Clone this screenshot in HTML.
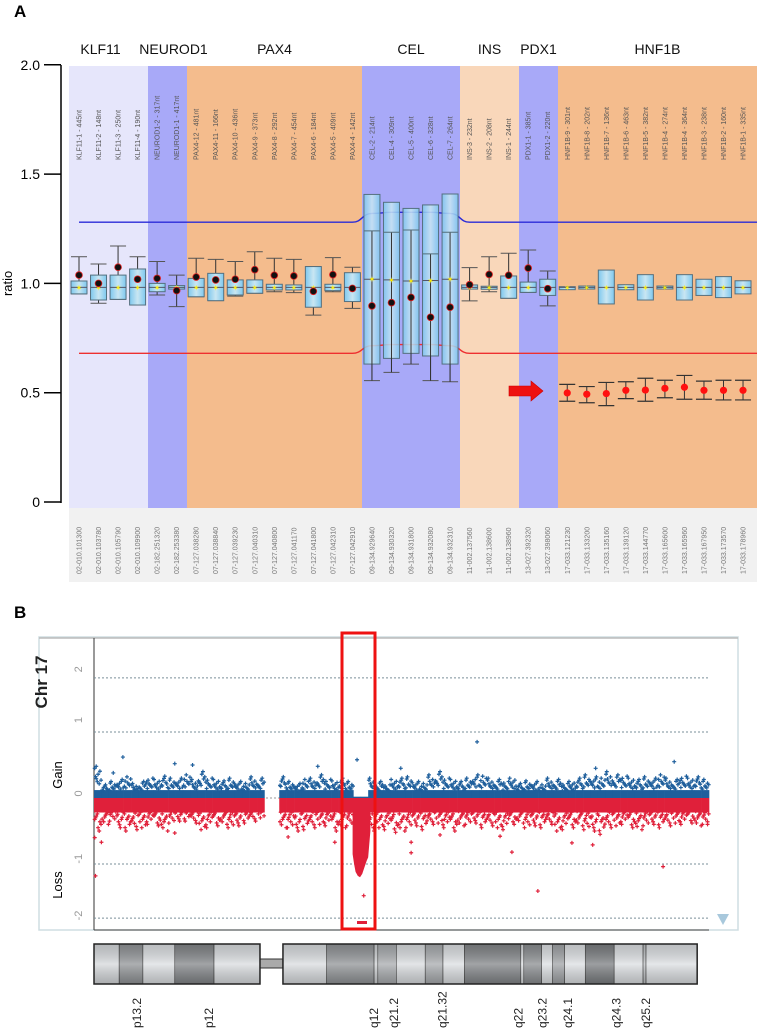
<!DOCTYPE html>
<html><head><meta charset="utf-8">
<style>
html,body{margin:0;padding:0;background:#fff;}
svg{display:block;font-family:"Liberation Sans",sans-serif;}
</style></head>
<body>
<svg id="fig" width="758" height="1036" viewBox="0 0 758 1036" xmlns="http://www.w3.org/2000/svg">
<defs>
<linearGradient id="boxg" x1="0" x2="1" y1="0" y2="0">
<stop offset="0" stop-color="#7ec8ee"/><stop offset="0.5" stop-color="#c9e6f2"/><stop offset="1" stop-color="#7ec8ee"/>
</linearGradient>
<linearGradient id="chrg" x1="0" x2="0" y1="0" y2="1">
<stop offset="0" stop-color="#000" stop-opacity="0.15"/><stop offset="0.5" stop-color="#fff" stop-opacity="0.25"/><stop offset="1" stop-color="#000" stop-opacity="0.2"/>
</linearGradient>
</defs>
<text x="14" y="17" font-size="17" font-weight="bold">A</text>
<text x="14" y="618" font-size="17" font-weight="bold">B</text>
<g id="panelA"></g>
<g id="panelB"></g>
</svg>
<script>
// ---------- Panel A data ----------
const genes = ["KLF11","NEUROD1","PAX4","CEL","INS","PDX1","HNF1B"];
const geneCounts = [4,2,9,5,3,2,10];
const geneColors = ["#e6e6fb","#a8a9f8","#f4bc8d","#a8a9f8","#f9d7ba","#a8a9f8","#f4bc8d"];
const geneBandX = [69,148,187,362,460,519,558,757];
const probeNames = ["KLF11-1 - 445nt","KLF11-2 - 148nt","KLF11-3 - 250nt","KLF11-4 - 190nt","NEUROD1-2 - 317nt","NEUROD1-1 - 417nt","PAX4-12 - 481nt","PAX4-11 - 166nt","PAX4-10 - 436nt","PAX4-9 - 373nt","PAX4-8 - 292nt","PAX4-7 - 454nt","PAX4-6 - 184nt","PAX4-5 - 409nt","PAX4-4 - 142nt","CEL-2 - 214nt","CEL-4 - 309nt","CEL-5 - 400nt","CEL-6 - 328nt","CEL-7 - 264nt","INS-3 - 232nt","INS-2 - 208nt","INS-1 - 244nt","PDX1-1 - 385nt","PDX1-2 - 220nt","HNF1B-9 - 301nt","HNF1B-8 - 202nt","HNF1B-7 - 136nt","HNF1B-6 - 463nt","HNF1B-5 - 382nt","HNF1B-4 - 274nt","HNF1B-4 - 364nt","HNF1B-3 - 238nt","HNF1B-2 - 160nt","HNF1B-1 - 335nt"];
const probeLoci = ["02-010.101300","02-010.103780","02-010.105790","02-010.109900","02-182.251320","02-182.253380","07-127.038280","07-127.038840","07-127.039230","07-127.040310","07-127.040800","07-127.041170","07-127.041800","07-127.042310","07-127.042910","09-134.929640","09-134.930320","09-134.931800","09-134.932080","09-134.932310","11-002.137560","11-002.138600","11-002.138960","13-027.392320","13-027.398060","17-033.121230","17-033.133200","17-033.135160","17-033.139120","17-033.144770","17-033.165600","17-033.165960","17-033.167950","17-033.173570","17-033.178960"];
const whiskHigh = [1.122,1.089,1.171,1.122,1.100,1.038,1.115,1.110,1.100,1.145,1.115,1.110,1.077,1.118,1.074,1.240,1.234,1.244,1.135,1.234,1.072,1.122,1.138,1.153,1.057,0.985,0.988,1.061,0.994,1.040,0.988,1.040,1.019,1.031,1.012];
const boxHigh = [1.011,1.038,1.038,1.066,1.000,0.990,1.023,1.046,1.016,1.016,0.996,0.993,1.077,0.996,1.049,1.407,1.371,1.343,1.359,1.409,0.993,0.987,1.034,1.006,1.019,0.985,0.988,1.061,0.994,1.040,0.988,1.040,1.019,1.031,1.012];
const boxLow = [0.952,0.924,0.927,0.901,0.962,0.974,0.939,0.921,0.947,0.955,0.970,0.970,0.891,0.967,0.917,0.631,0.657,0.680,0.668,0.631,0.974,0.973,0.932,0.959,0.945,0.979,0.976,0.906,0.971,0.924,0.976,0.924,0.945,0.935,0.952];
const whiskLow = [0.952,0.909,0.927,0.901,0.947,0.894,0.939,0.921,0.942,0.955,0.962,0.958,0.855,0.962,0.886,0.555,0.593,0.631,0.555,0.550,0.920,0.962,0.932,0.959,0.897,0.979,0.976,0.906,0.971,0.924,0.976,0.924,0.945,0.935,0.952];
const medians = [0.982,0.982,0.982,0.982,0.982,0.982,0.982,0.982,0.982,0.982,0.982,0.982,0.982,0.982,0.982,1.019,1.016,1.011,1.013,1.019,0.982,0.982,0.982,0.982,0.982,0.982,0.982,0.982,0.982,0.982,0.982,0.982,0.982,0.982,0.982];
const sampleRatio = [1.038,1.000,1.074,1.019,1.023,0.967,1.029,1.016,1.019,1.063,1.037,1.034,0.964,1.040,0.977,0.897,0.912,0.936,0.845,0.891,0.994,1.041,1.037,1.070,0.976,0.499,0.493,0.496,0.511,0.512,0.520,0.525,0.511,0.511,0.511];
const sampleHigh = [null,null,null,null,null,null,null,null,null,null,null,null,null,null,null,null,null,null,null,null,null,null,null,null,null,0.538,0.528,0.547,0.550,0.566,0.557,0.579,0.553,0.557,0.557];
const sampleLow = [null,null,null,null,null,null,null,null,null,null,null,null,null,null,null,null,null,null,null,null,null,null,null,null,null,0.461,0.454,0.441,0.473,0.461,0.477,0.470,0.470,0.467,0.467];
const upperThresh = [1.28,1.28,1.28,1.28,1.28,1.28,1.28,1.28,1.28,1.28,1.28,1.28,1.28,1.28,1.28,1.32,1.325,1.325,1.325,1.32,1.28,1.28,1.28,1.28,1.28,1.28,1.28,1.28,1.28,1.28,1.28,1.28,1.28,1.28,1.28];
const lowerThresh = [0.68,0.68,0.68,0.68,0.68,0.68,0.68,0.68,0.68,0.68,0.68,0.68,0.68,0.68,0.68,0.715,0.72,0.72,0.72,0.715,0.68,0.68,0.68,0.68,0.68,0.68,0.68,0.68,0.68,0.68,0.68,0.68,0.68,0.68,0.68];
const yTicksA = [0,0.5,1.0,1.5,2.0];
const yTickLabelsA = ["0","0.5","1.0","1.5","2.0"];

// ---------- Panel B data ----------
const blueTop = [0.45,0.2,0.25,0.28,0.32,0.22,0.25,0.3,0.28,0.33,0.3,0.3,0.35,0.28,0.4,0.3,0.28,0.26,0.3,0.25,0.22,0.32,0.3,null,null,0.32,0.25,0.22,0.28,0.3,0.35,0.28,0.26,0.3,0.25,0.02,0.02,0.3,0.25,0.2,0.28,0.3,0.32,0.25,0.22,0.35,0.4,0.3,0.28,0.25,0.3,0.35,0.33,0.3,0.28,0.25,0.3,0.22,0.26,0.25,0.2,0.3,0.28,0.22,0.25,0.3,0.35,0.32,0.3,0.4,0.35,0.33,0.3,0.28,0.32,0.3,0.35,0.3,0.28,0.33,0.3,0.32,0.28];
const redBottom = [-0.5,-0.4,-0.35,-0.45,-0.5,-0.48,-0.45,-0.4,-0.42,-0.5,-0.38,-0.35,-0.35,-0.38,-0.48,-0.45,-0.42,-0.4,-0.45,-0.42,-0.38,-0.35,-0.3,null,null,-0.45,-0.45,-0.5,-0.48,-0.45,-0.4,-0.42,-0.5,-0.45,-0.42,-0.3,-0.3,-0.5,-0.45,-0.48,-0.52,-0.5,-0.45,-0.42,-0.48,-0.4,-0.38,-0.45,-0.5,-0.42,-0.4,-0.38,-0.45,-0.42,-0.45,-0.48,-0.4,-0.38,-0.45,-0.42,-0.45,-0.4,-0.5,-0.48,-0.45,-0.42,-0.48,-0.5,-0.55,-0.45,-0.42,-0.4,-0.45,-0.48,-0.42,-0.4,-0.45,-0.42,-0.38,-0.4,-0.38,-0.42,-0.4];
const blueOutPos = [0.3,2.6,3.9,10.9,13.3,30.2,35.5,41.4,51.7,67.7,78.3];
const blueOutVal = [0.48,0.38,0.62,0.52,0.50,0.48,0.58,0.45,0.85,0.45,0.55];
const redOutPos = [0.1,1.0,0.2,10.9,26.2,32.5,42.8,42.8,56.4,59.9,64.5,67.3,76.8,82.8,46.7,54.8];
const redOutVal = [-0.6,-0.67,-1.18,-0.53,-0.59,-0.67,-0.67,-0.83,-0.82,-1.41,-0.68,-0.71,-1.04,-0.40,-0.56,-0.58];
const delPos = [34.9,35.1,35.3,35.6,35.9,36.2,36.5,36.8,37.0,37.3];
const delVal = [-0.85,-1.0,-1.12,-1.18,-1.2,-1.15,-1.05,-0.95,-0.9,-0.5];
const delTailPos = [36.4];
const delTailVal = [-1.48];
const gridVals = [1.82,1,-1,-1.82];
const yTickB = [2,1,0,-1,-2];
const yTickBPos = [1.95,1.18,0.07,-0.92,-1.78];
const bandStart = [0,3.4,6.6,10.9,16.2,22.4,25.5,31.4,37.8,38.3,40.8,44.7,47.1,50.0,57.6,58.0,60.4,61.9,63.5,66.3,70.2,74.1,74.5];
const bandEnd =   [3.4,6.6,10.9,16.2,22.4,25.5,31.4,37.8,38.3,40.8,44.7,47.1,50.0,57.6,58.0,60.4,61.9,63.5,66.3,70.2,74.1,74.5,81.4];
const bandShade = [0.15,0.6,0.1,0.7,0.12,-1,0.12,0.6,0.2,0.45,0.12,0.45,0.1,0.7,0.1,0.65,0.1,0.5,0.1,0.75,0.1,0.3,0.1];
const cytoLabels = ["p13.2","p12","q12","q21.2","q21.32","q22","q23.2","q24.1","q24.3","q25.2"];
const cytoPos = [5.8,15.5,37.8,40.5,47.0,57.3,60.5,64.0,70.5,74.5];

const NS="http://www.w3.org/2000/svg";
function mk(parent, tag, attrs, text){
  const e=document.createElementNS(NS,tag);
  for(const k in attrs) e.setAttribute(k,attrs[k]);
  if(text!==undefined) e.textContent=text;
  parent.appendChild(e); return e;
}
// ---------- Panel A draw ----------
const A=document.getElementById('panelA');
const yA=v=>502-v*218.6;
const xA=i=>79+i*19.53;
genes.forEach((g,gi)=>{
  const r=mk(A,'rect',{x:geneBandX[gi],y:66,width:geneBandX[gi+1]-geneBandX[gi],height:442,fill:geneColors[gi]});
  
  
  const cx=(geneBandX[gi]+geneBandX[gi+1])/2;
  const t=mk(A,'text',{x:cx+(gi===0?-8:gi===1?6:0),y:54,'font-size':14,'text-anchor':'middle',fill:'#111'},g);
  
  
});
const strip=mk(A,'rect',{x:69,y:508,width:688,height:74,fill:'#f1f1f1'});


const ax=mk(A,'line',{x1:61,y1:65,x2:61,y2:503,stroke:'#000','stroke-width':1.5});


yTicksA.forEach((v,i)=>{
  mk(A,'line',{x1:44,x2:61,y1:yA(v),y2:yA(v),stroke:'#000','stroke-width':1.5});
  const t=mk(A,'text',{x:40,y:yA(v)+5,'font-size':14,'text-anchor':'end'},yTickLabelsA[i]);
  
  
});
const yt=mk(A,'text',{x:0,y:0,'font-size':13,'text-anchor':'middle',transform:'translate(12,'+yA(1)+') rotate(-90)'},'ratio');


function thrPath(arr){
  let d='M'+xA(0)+','+yA(arr[0]);
  for(let i=1;i<arr.length;i++){
    const x0=xA(i-1),x1=xA(i),y0=yA(arr[i-1]),y1=yA(arr[i]);
    d+=' C'+(x0+10)+','+y0+' '+(x1-10)+','+y1+' '+x1+','+y1;
  }
  d+=' L757,'+yA(arr[arr.length-1]);
  return d;
}
const ub=mk(A,'path',{d:thrPath(upperThresh),fill:'none',stroke:'#2b2bd8','stroke-width':1.4});


const lb=mk(A,'path',{d:thrPath(lowerThresh),fill:'none',stroke:'#ee3030','stroke-width':1.4});


probeNames.forEach((n,i)=>{
  const x=xA(i);
  const g=mk(A,'g',{});
  
  
  const pl=mk(g,'text',{x:0,y:0,'font-size':7,fill:'#555',transform:'translate('+(x+2.5)+',160) rotate(-90)'},n);
  
  
  const ll=mk(g,'text',{x:0,y:0,'font-size':7,fill:'#777',transform:'translate('+(x+2.5)+',574) rotate(-90)'},probeLoci[i]);
  
  
  const w=16;
  if(whiskHigh[i]>boxHigh[i]+0.001 || whiskLow[i]<boxLow[i]-0.001 || i>=15&&i<=19){
    mk(g,'line',{x1:x,x2:x,y1:yA(whiskHigh[i]),y2:yA(whiskLow[i]),stroke:'#333','stroke-width':1});
    mk(g,'line',{x1:x-8,x2:x+8,y1:yA(whiskHigh[i]),y2:yA(whiskHigh[i]),stroke:'#555','stroke-width':1});
    mk(g,'line',{x1:x-8,x2:x+8,y1:yA(whiskLow[i]),y2:yA(whiskLow[i]),stroke:'#555','stroke-width':1});
  }
  const bh=Math.max(yA(boxLow[i])-yA(boxHigh[i]),3);
  const box=mk(g,'rect',{x:x-w/2,y:yA(boxHigh[i]),width:w,height:bh,fill:'url(#boxg)',stroke:'#55707f','stroke-width':1,'fill-opacity':i>=15&&i<=19?0.85:1});
  
  
  if(i>=15&&i<=19){
    mk(g,'line',{x1:x,x2:x,y1:yA(whiskHigh[i]),y2:yA(whiskLow[i]),stroke:'#333','stroke-width':1});
    mk(g,'line',{x1:x-w/2,x2:x+w/2,y1:yA(whiskHigh[i]),y2:yA(whiskHigh[i]),stroke:'#55707f','stroke-width':1});
  }
  mk(g,'line',{x1:x-w/2,x2:x+w/2,y1:yA(medians[i]),y2:yA(medians[i]),stroke:'#556','stroke-width':1});
  const st=mk(g,'text',{x:x,y:yA(medians[i])+3,'font-size':8,'text-anchor':'middle',fill:'#ffee00'},'✶');
  
  
  if(sampleHigh[i]!==null){
    mk(g,'line',{x1:x,x2:x,y1:yA(sampleHigh[i]),y2:yA(sampleLow[i]),stroke:'#333','stroke-width':1});
    mk(g,'line',{x1:x-8,x2:x+8,y1:yA(sampleHigh[i]),y2:yA(sampleHigh[i]),stroke:'#333','stroke-width':1.2});
    mk(g,'line',{x1:x-8,x2:x+8,y1:yA(sampleLow[i]),y2:yA(sampleLow[i]),stroke:'#333','stroke-width':1.2});
    const d=mk(g,'circle',{cx:x,cy:yA(sampleRatio[i]),r:3.6,fill:'#ff1010'});
    
    
  } else {
    const d=mk(g,'circle',{cx:x,cy:yA(sampleRatio[i]),r:3.4,fill:'#111',stroke:'#e02020','stroke-width':0.8});
    
    
  }
});
const arrow=mk(A,'path',{d:'M509,386 L531,386 L531,381 L543,391 L531,401 L531,396 L509,396 Z',fill:'#ee1111',stroke:'#cc0000','stroke-width':0.6});



// ---------- Panel B draw ----------
const B=document.getElementById('panelB');
const xB=mb=>94+mb*7.41;
const yB=v=>798-v*66;
const fr=mk(B,'rect',{x:39,y:637,width:699,height:293,fill:'#fff',stroke:'#cfdde2','stroke-width':1.5});


mk(B,'line',{x1:39,x2:738,y1:638,y2:638,stroke:'#bbb','stroke-width':1.5});
const axb=mk(B,'line',{x1:94,x2:94,y1:638,y2:930,stroke:'#333','stroke-width':1});


mk(B,'line',{x1:94,x2:709,y1:930,y2:930,stroke:'#444','stroke-width':1});
gridVals.forEach(v=>{
  const l=mk(B,'line',{x1:94,x2:709,y1:yB(v),y2:yB(v),stroke:'#7a8f99','stroke-width':1,'stroke-dasharray':'2,2'});
  
  
});
mk(B,'line',{x1:94,x2:709,y1:yB(0),y2:yB(0),stroke:'#999','stroke-width':1,'stroke-dasharray':'2,2'});
yTickB.forEach((v,i)=>{
  const t=mk(B,'text',{x:0,y:0,'font-size':11,fill:'#999','text-anchor':'middle',transform:'translate(82,'+yB(yTickBPos[i])+') rotate(-90)'},String(v));
  
  
});
const ct=mk(B,'text',{x:0,y:0,'font-size':17,'font-weight':'bold','text-anchor':'middle',fill:'#222',transform:'translate(47,682) rotate(-90)'},'Chr 17');


const gt=mk(B,'text',{x:0,y:0,'font-size':13,'text-anchor':'middle',transform:'translate(62,775) rotate(-90)'},'Gain');


const lt=mk(B,'text',{x:0,y:0,'font-size':13,'text-anchor':'middle',transform:'translate(62,885) rotate(-90)'},'Loss');


const tri=mk(B,'path',{d:'M717,914 L729,914 L723,925 Z',fill:'#a8c8dc'});



function plus(g,x,y,c){
  mk(g,'path',{d:'M'+(x-2)+','+y+'h4M'+x+','+(y-2)+'v4',stroke:c,'stroke-width':1.2});
}
const pts=mk(B,'g',{});


const offs=[0.1,0.55,0.3,0.8,0.45,0.2,0.7,0.95];
const fr2=[1,0.8,0.65,0.9,0.55,0.72,0.48,0.6];
for(let i=0;i<blueTop.length;i++){
  if(blueTop[i]===null) continue;
  const x0=xB(i),x1=xB(i+1);
  mk(pts,'rect',{x:x0,y:yB(Math.min(blueTop[i],0.12)),width:x1-x0+0.3,height:yB(0)-yB(Math.min(blueTop[i],0.12)),fill:'#1f5f9c'});
  mk(pts,'rect',{x:x0,y:yB(0),width:x1-x0+0.3,height:yB(Math.max(redBottom[i],-0.22))-yB(0),fill:'#e0203a'});
  for(let k=0;k<8;k++){
    const xx=x0+offs[(i+k)%8]*(x1-x0);
    const bv=blueTop[i]*fr2[k];
    if(bv>0.1) plus(pts,xx,yB(bv),'#1f5f9c');
    const rv=redBottom[i]*fr2[(k+2)%8];
    if(rv<-0.2) plus(pts,xx,yB(rv),'#e0203a');
  }
}
blueOutPos.forEach((p,i)=>plus(pts,xB(p),yB(blueOutVal[i]),'#1f5f9c'));
redOutPos.forEach((p,i)=>plus(pts,xB(p),yB(redOutVal[i]),'#e0203a'));
let dd='M'+xB(delPos[0])+','+yB(0);
delPos.forEach((p,i)=>{dd+=' L'+xB(p)+','+yB(delVal[i]);});
dd+=' L'+xB(delPos[delPos.length-1])+','+yB(0)+' Z';
const del=mk(B,'path',{d:dd,fill:'#e0203a'});


delTailPos.forEach((p,i)=>plus(pts,xB(p),yB(delTailVal[i]),'#e0203a'));
mk(B,'rect',{x:357,y:921,width:10,height:3,fill:'#e0203a'});
const hl=mk(B,'rect',{x:342,y:633,width:33,height:296,fill:'none',stroke:'#ee1111','stroke-width':3});


const idg=mk(B,'g',{});


bandStart.forEach((s,i)=>{
  const sh=bandShade[i];
  if(sh<0){
    mk(idg,'rect',{x:xB(s),y:959,width:xB(bandEnd[i])-xB(s),height:9,fill:'#aaa',stroke:'#333','stroke-width':1});
    return;
  }
  const c=Math.round(235-sh*150);
  const b=mk(idg,'rect',{x:xB(s),y:944,width:xB(bandEnd[i])-xB(s),height:40,fill:'rgb('+c+','+(c+3)+','+(c+6)+')',stroke:'#333','stroke-width':0.6});
  
  
  mk(idg,'rect',{x:xB(s),y:944,width:xB(bandEnd[i])-xB(s),height:40,fill:'url(#chrg)'});
});
mk(idg,'rect',{x:xB(0),y:944,width:xB(22.4)-xB(0),height:40,fill:'none',stroke:'#222','stroke-width':1.5});
mk(idg,'rect',{x:xB(25.5),y:944,width:xB(81.4)-xB(25.5),height:40,fill:'none',stroke:'#222','stroke-width':1.5});
cytoLabels.forEach((l,i)=>{
  const t=mk(B,'text',{x:0,y:0,'font-size':12,fill:'#222',transform:'translate('+(xB(cytoPos[i])+4)+',1028) rotate(-90)'},l);
  
  
});
</script>
</body></html>
